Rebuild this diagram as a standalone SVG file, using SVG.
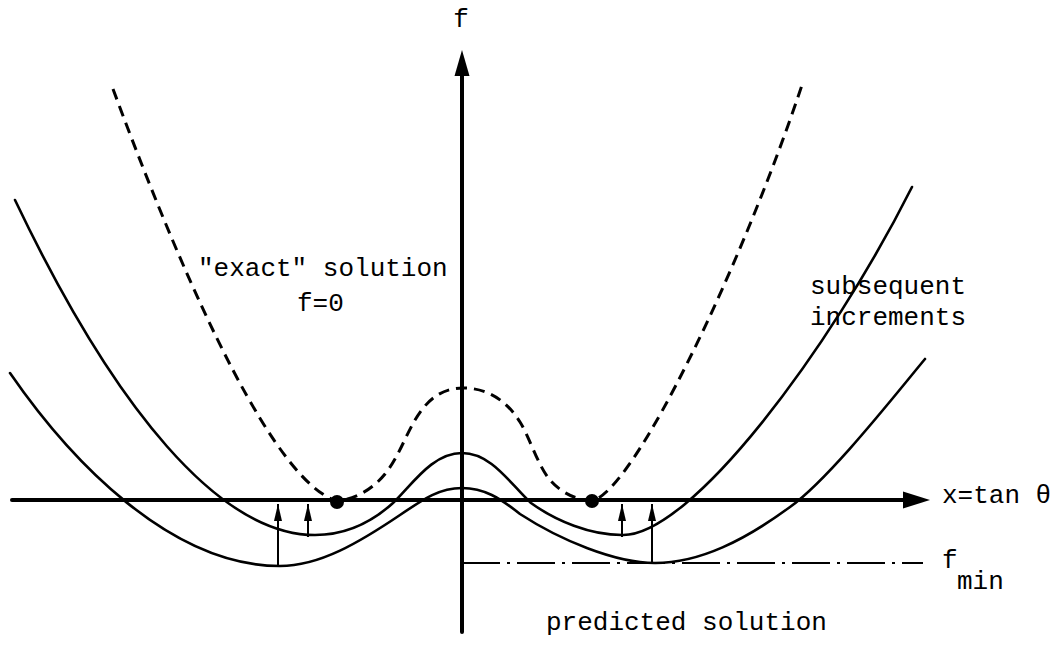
<svg xmlns="http://www.w3.org/2000/svg" width="1052" height="661" viewBox="0 0 1052 661">
<style>
.crv{fill:none;stroke:#000;stroke-width:2.6;stroke-linecap:round;stroke-linejoin:round}
.dash{fill:none;stroke:#000;stroke-width:3;stroke-dasharray:11 7}
.axis{stroke:#000;stroke-width:4;stroke-linecap:round}
.thin{stroke:#000;stroke-width:2}
.dd{stroke:#000;stroke-width:2;stroke-dasharray:38 7 3 7}
.lbl{font-family:"Liberation Mono","DejaVu Sans Mono",monospace;font-size:26px;fill:#000}
</style>
<defs>
<marker id="ah" markerUnits="userSpaceOnUse" markerWidth="18" markerHeight="9" refX="17" refY="4.5" orient="auto">
<path d="M0,0.5 L17,4.5 L0,8.5 z" fill="#000"/>
</marker>
</defs>
<rect width="1052" height="661" fill="#fff"/>
<g id="curves">
<path id="exact-curve" class="dash" d="M113,89 C193,305 277,483 337,501 C355,499 372,490 385,474 C398,458 405,437 415,420 C428,398 443,388 463,388 C485,388 505,398 520,422 C530,438 538,466 550,480 C562,494 578,500 592,501 C635,490 742,265 802,85"/>
<path id="increment-curve" class="crv" d="M15,200 C115,410 220,535 315,535 C345,535 372,522 393,503 C412,485 432,453 462,453 C492,453 511,485 531,503 C556,521 590,535 622,535 C690,537 830,350 912,187"/>
<path id="predicted-curve" class="crv" d="M10,373 C70,460 170,566 280,566 C320,566 360,542 400,515 C425,498 440,488 462,488 C484,488 500,498 520,514 C560,540 615,563 655,563 C700,563 745,540 790,507 C830,478 895,395 925,359"/>
</g>
<g id="connectors">
<line class="axis" x1="12" y1="500" x2="906" y2="500"/>
<polygon points="930,500 903,491.5 903,508.5" fill="#000"/>
<line class="axis" x1="462" y1="632" x2="462" y2="72"/>
<polygon points="462,50 454.5,76 469.5,76" fill="#000"/>
<line class="dd" x1="462" y1="563" x2="923" y2="563"/>
<line class="thin" x1="278" y1="566" x2="278" y2="504" marker-end="url(#ah)"/>
<line class="thin" x1="308" y1="537" x2="308" y2="504" marker-end="url(#ah)"/>
<line class="thin" x1="622" y1="537" x2="622" y2="504" marker-end="url(#ah)"/>
<line class="thin" x1="652" y1="563" x2="652" y2="504" marker-end="url(#ah)"/>
</g>
<g id="points">
<circle cx="337" cy="502" r="7" fill="#000"/>
<circle cx="592" cy="501" r="7" fill="#000"/>
</g>
<g id="labels">
<text class="lbl" x="461" y="27" text-anchor="middle">f</text>
<text class="lbl" x="198" y="276">"exact" solution</text>
<text class="lbl" x="297" y="311">f=0</text>
<text class="lbl" x="810" y="294">subsequent</text>
<text class="lbl" x="810" y="325">increments</text>
<text class="lbl" x="942" y="503">x=tan θ</text>
<text class="lbl" x="942" y="568">f</text>
<text class="lbl" x="957" y="589">min</text>
<text class="lbl" x="546" y="630">predicted solution</text>
</g>
</svg>
